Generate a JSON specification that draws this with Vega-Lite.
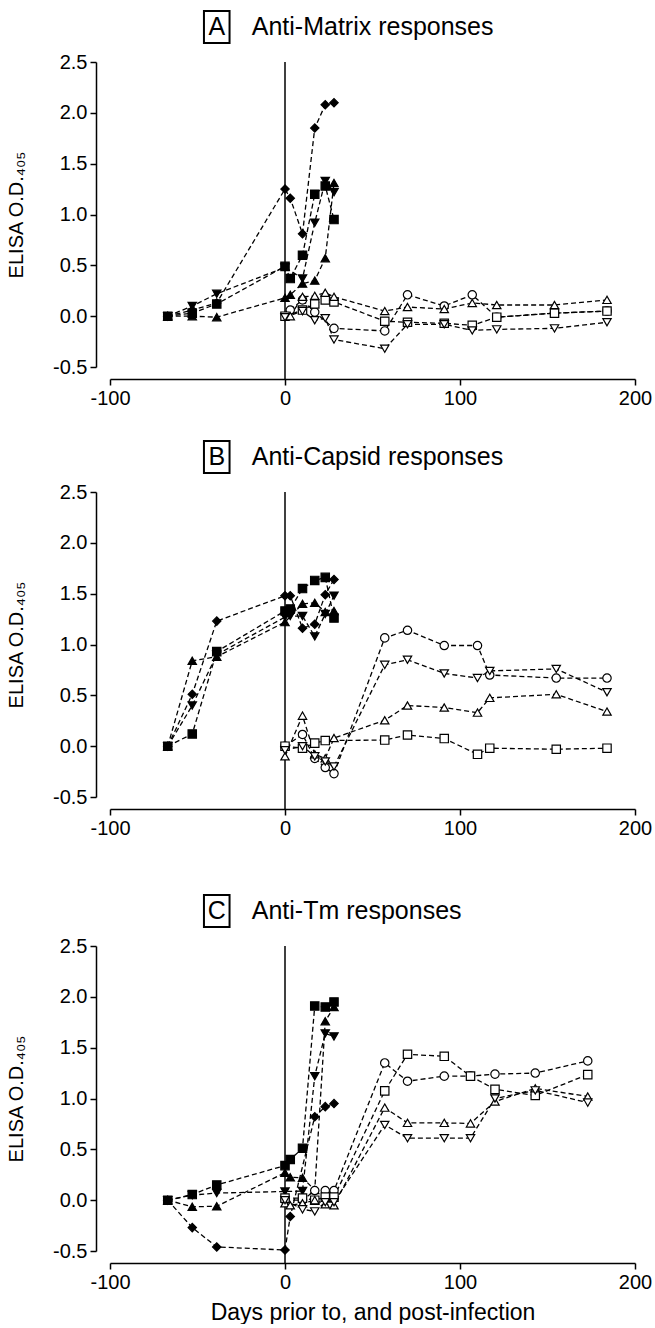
{
  "$schema": "https://vega.github.io/schema/vega-lite/v6.json",
  "padding": {"left": 6, "top": 7, "right": 0, "bottom": 0},
  "background": "white",
  "config": {
    "view": {"stroke": null},
    "axis": {
      "grid": false, "domainColor": "black", "tickColor": "black", "labelColor": "black", "titleColor": "black",
      "labelFont": "Liberation Sans", "titleFont": "Liberation Sans, DejaVu Sans", "labelFontSize": 20, "titleFontSize": 20,
      "titleFontWeight": "normal", "tickSize": 6, "domainWidth": 1.5, "tickWidth": 1.5, "labelPadding": 3,
      "labelOverlap": false, "labelFlush": false, "labelBound": false
    }
  },
  "datasets": {
    "panels": [
      {"panel": "A", "letter": "A", "title": "Anti-Matrix responses"},
      {"panel": "B", "letter": "B", "title": "Anti-Capsid responses"},
      {"panel": "C", "letter": "C", "title": "Anti-Tm responses"}
    ],
    "obs": [
      {"panel":"A","series":"solid-diamond","day":-67,"od":0},{"panel":"A","series":"solid-diamond","day":-53,"od":0.06},{"panel":"A","series":"solid-diamond","day":-39,"od":0.13},{"panel":"A","series":"solid-diamond","day":0,"od":1.25},{"panel":"A","series":"solid-diamond","day":3,"od":1.16},{"panel":"A","series":"solid-diamond","day":10,"od":0.81},{"panel":"A","series":"solid-diamond","day":17,"od":1.85},{"panel":"A","series":"solid-diamond","day":23,"od":2.08},{"panel":"A","series":"solid-diamond","day":28,"od":2.10},
      {"panel":"A","series":"solid-square","day":-67,"od":0},{"panel":"A","series":"solid-square","day":-53,"od":0.03},{"panel":"A","series":"solid-square","day":-39,"od":0.12},{"panel":"A","series":"solid-square","day":0,"od":0.49},{"panel":"A","series":"solid-square","day":3,"od":0.37},{"panel":"A","series":"solid-square","day":10,"od":0.60},{"panel":"A","series":"solid-square","day":17,"od":1.20},{"panel":"A","series":"solid-square","day":23,"od":1.28},{"panel":"A","series":"solid-square","day":28,"od":0.95},
      {"panel":"A","series":"solid-down","day":-67,"od":0},{"panel":"A","series":"solid-down","day":-53,"od":0.10},{"panel":"A","series":"solid-down","day":-39,"od":0.22},{"panel":"A","series":"solid-down","day":0,"od":0.48},{"panel":"A","series":"solid-down","day":10,"od":0.37},{"panel":"A","series":"solid-down","day":17,"od":0.92},{"panel":"A","series":"solid-down","day":23,"od":1.33},{"panel":"A","series":"solid-down","day":28,"od":1.22},
      {"panel":"A","series":"solid-up","day":-67,"od":0},{"panel":"A","series":"solid-up","day":-53,"od":0.0},{"panel":"A","series":"solid-up","day":-39,"od":-0.01},{"panel":"A","series":"solid-up","day":0,"od":0.18},{"panel":"A","series":"solid-up","day":3,"od":0.21},{"panel":"A","series":"solid-up","day":10,"od":0.32},{"panel":"A","series":"solid-up","day":17,"od":0.35},{"panel":"A","series":"solid-up","day":23,"od":0.57},{"panel":"A","series":"solid-up","day":28,"od":1.31},
      {"panel":"A","series":"open-circle","day":3,"od":0.06},{"panel":"A","series":"open-circle","day":10,"od":0.16},{"panel":"A","series":"open-circle","day":17,"od":0.04},{"panel":"A","series":"open-circle","day":28,"od":-0.12},{"panel":"A","series":"open-circle","day":57,"od":-0.145},{"panel":"A","series":"open-circle","day":70,"od":0.21},{"panel":"A","series":"open-circle","day":91,"od":0.10},{"panel":"A","series":"open-circle","day":107,"od":0.21},{"panel":"A","series":"open-circle","day":121,"od":-0.01},{"panel":"A","series":"open-circle","day":154,"od":0.03},{"panel":"A","series":"open-circle","day":184,"od":0.05},
      {"panel":"A","series":"open-square","day":0,"od":0.0},{"panel":"A","series":"open-square","day":10,"od":0.06},{"panel":"A","series":"open-square","day":17,"od":0.12},{"panel":"A","series":"open-square","day":23,"od":0.16},{"panel":"A","series":"open-square","day":28,"od":0.14},{"panel":"A","series":"open-square","day":57,"od":-0.05},{"panel":"A","series":"open-square","day":70,"od":-0.06},{"panel":"A","series":"open-square","day":91,"od":-0.07},{"panel":"A","series":"open-square","day":107,"od":-0.09},{"panel":"A","series":"open-square","day":121,"od":-0.01},{"panel":"A","series":"open-square","day":154,"od":0.03},{"panel":"A","series":"open-square","day":184,"od":0.05},
      {"panel":"A","series":"open-up","day":3,"od":0.0},{"panel":"A","series":"open-up","day":10,"od":0.19},{"panel":"A","series":"open-up","day":17,"od":0.20},{"panel":"A","series":"open-up","day":23,"od":0.23},{"panel":"A","series":"open-up","day":28,"od":0.19},{"panel":"A","series":"open-up","day":57,"od":0.05},{"panel":"A","series":"open-up","day":70,"od":0.09},{"panel":"A","series":"open-up","day":91,"od":0.07},{"panel":"A","series":"open-up","day":107,"od":0.13},{"panel":"A","series":"open-up","day":121,"od":0.11},{"panel":"A","series":"open-up","day":154,"od":0.11},{"panel":"A","series":"open-up","day":184,"od":0.16},
      {"panel":"A","series":"open-down","day":0,"od":-0.01},{"panel":"A","series":"open-down","day":10,"od":0.05},{"panel":"A","series":"open-down","day":17,"od":-0.04},{"panel":"A","series":"open-down","day":23,"od":-0.02},{"panel":"A","series":"open-down","day":28,"od":-0.23},{"panel":"A","series":"open-down","day":57,"od":-0.32},{"panel":"A","series":"open-down","day":70,"od":-0.08},{"panel":"A","series":"open-down","day":91,"od":-0.08},{"panel":"A","series":"open-down","day":107,"od":-0.14},{"panel":"A","series":"open-down","day":121,"od":-0.13},{"panel":"A","series":"open-down","day":154,"od":-0.12},{"panel":"A","series":"open-down","day":184,"od":-0.06},

      {"panel":"B","series":"solid-diamond","day":-67,"od":0},{"panel":"B","series":"solid-diamond","day":-53,"od":0.51},{"panel":"B","series":"solid-diamond","day":-39,"od":1.23},{"panel":"B","series":"solid-diamond","day":0,"od":1.48},{"panel":"B","series":"solid-diamond","day":3,"od":1.48},{"panel":"B","series":"solid-diamond","day":10,"od":1.16},{"panel":"B","series":"solid-diamond","day":17,"od":1.20},{"panel":"B","series":"solid-diamond","day":23,"od":1.49},{"panel":"B","series":"solid-diamond","day":28,"od":1.64},
      {"panel":"B","series":"solid-square","day":-67,"od":0},{"panel":"B","series":"solid-square","day":-53,"od":0.12},{"panel":"B","series":"solid-square","day":-39,"od":0.93},{"panel":"B","series":"solid-square","day":0,"od":1.33},{"panel":"B","series":"solid-square","day":3,"od":1.35},{"panel":"B","series":"solid-square","day":10,"od":1.55},{"panel":"B","series":"solid-square","day":17,"od":1.63},{"panel":"B","series":"solid-square","day":23,"od":1.66},{"panel":"B","series":"solid-square","day":28,"od":1.26},
      {"panel":"B","series":"solid-up","day":-67,"od":0},{"panel":"B","series":"solid-up","day":-53,"od":0.84},{"panel":"B","series":"solid-up","day":-39,"od":0.88},{"panel":"B","series":"solid-up","day":0,"od":1.22},{"panel":"B","series":"solid-up","day":10,"od":1.40},{"panel":"B","series":"solid-up","day":17,"od":1.41},{"panel":"B","series":"solid-up","day":23,"od":1.32},{"panel":"B","series":"solid-up","day":28,"od":1.33},
      {"panel":"B","series":"solid-down","day":-67,"od":0},{"panel":"B","series":"solid-down","day":-53,"od":0.40},{"panel":"B","series":"solid-down","day":-39,"od":0.90},{"panel":"B","series":"solid-down","day":0,"od":1.27},{"panel":"B","series":"solid-down","day":3,"od":1.28},{"panel":"B","series":"solid-down","day":10,"od":1.28},{"panel":"B","series":"solid-down","day":17,"od":1.08},{"panel":"B","series":"solid-down","day":23,"od":1.30},{"panel":"B","series":"solid-down","day":28,"od":1.48},
      {"panel":"B","series":"open-circle","day":0,"od":0.0},{"panel":"B","series":"open-circle","day":10,"od":0.115},{"panel":"B","series":"open-circle","day":17,"od":-0.12},{"panel":"B","series":"open-circle","day":23,"od":-0.21},{"panel":"B","series":"open-circle","day":28,"od":-0.27},{"panel":"B","series":"open-circle","day":57,"od":1.065},{"panel":"B","series":"open-circle","day":70,"od":1.14},{"panel":"B","series":"open-circle","day":91,"od":0.99},{"panel":"B","series":"open-circle","day":110,"od":0.99},{"panel":"B","series":"open-circle","day":117,"od":0.70},{"panel":"B","series":"open-circle","day":155,"od":0.67},{"panel":"B","series":"open-circle","day":184,"od":0.67},
      {"panel":"B","series":"open-square","day":0,"od":0.0},{"panel":"B","series":"open-square","day":10,"od":-0.02},{"panel":"B","series":"open-square","day":17,"od":0.03},{"panel":"B","series":"open-square","day":23,"od":0.055},{"panel":"B","series":"open-square","day":57,"od":0.06},{"panel":"B","series":"open-square","day":70,"od":0.11},{"panel":"B","series":"open-square","day":91,"od":0.075},{"panel":"B","series":"open-square","day":110,"od":-0.08},{"panel":"B","series":"open-square","day":117,"od":-0.02},{"panel":"B","series":"open-square","day":155,"od":-0.03},{"panel":"B","series":"open-square","day":184,"od":-0.02},
      {"panel":"B","series":"open-up","day":0,"od":-0.1},{"panel":"B","series":"open-up","day":10,"od":0.3},{"panel":"B","series":"open-up","day":17,"od":-0.08},{"panel":"B","series":"open-up","day":23,"od":-0.12},{"panel":"B","series":"open-up","day":28,"od":0.08},{"panel":"B","series":"open-up","day":57,"od":0.255},{"panel":"B","series":"open-up","day":70,"od":0.40},{"panel":"B","series":"open-up","day":91,"od":0.38},{"panel":"B","series":"open-up","day":110,"od":0.33},{"panel":"B","series":"open-up","day":117,"od":0.475},{"panel":"B","series":"open-up","day":155,"od":0.51},{"panel":"B","series":"open-up","day":184,"od":0.34},
      {"panel":"B","series":"open-down","day":0,"od":-0.04},{"panel":"B","series":"open-down","day":10,"od":0.0},{"panel":"B","series":"open-down","day":17,"od":-0.1},{"panel":"B","series":"open-down","day":23,"od":-0.15},{"panel":"B","series":"open-down","day":28,"od":-0.2},{"panel":"B","series":"open-down","day":57,"od":0.80},{"panel":"B","series":"open-down","day":70,"od":0.85},{"panel":"B","series":"open-down","day":91,"od":0.715},{"panel":"B","series":"open-down","day":110,"od":0.67},{"panel":"B","series":"open-down","day":117,"od":0.74},{"panel":"B","series":"open-down","day":155,"od":0.76},{"panel":"B","series":"open-down","day":184,"od":0.53},

      {"panel":"C","series":"solid-diamond","day":-67,"od":0},{"panel":"C","series":"solid-diamond","day":-53,"od":-0.27},{"panel":"C","series":"solid-diamond","day":-39,"od":-0.46},{"panel":"C","series":"solid-diamond","day":0,"od":-0.49},{"panel":"C","series":"solid-diamond","day":3,"od":-0.16},{"panel":"C","series":"solid-diamond","day":17,"od":0.82},{"panel":"C","series":"solid-diamond","day":23,"od":0.92},{"panel":"C","series":"solid-diamond","day":28,"od":0.95},
      {"panel":"C","series":"solid-square","day":-67,"od":0},{"panel":"C","series":"solid-square","day":-53,"od":0.055},{"panel":"C","series":"solid-square","day":-39,"od":0.15},{"panel":"C","series":"solid-square","day":0,"od":0.34},{"panel":"C","series":"solid-square","day":3,"od":0.40},{"panel":"C","series":"solid-square","day":10,"od":0.51},{"panel":"C","series":"solid-square","day":17,"od":1.91},{"panel":"C","series":"solid-square","day":23,"od":1.90},{"panel":"C","series":"solid-square","day":28,"od":1.95},
      {"panel":"C","series":"solid-up","day":-67,"od":0},{"panel":"C","series":"solid-up","day":-53,"od":-0.065},{"panel":"C","series":"solid-up","day":-39,"od":-0.06},{"panel":"C","series":"solid-up","day":0,"od":0.27},{"panel":"C","series":"solid-up","day":3,"od":0.225},{"panel":"C","series":"solid-up","day":10,"od":0.22},{"panel":"C","series":"solid-up","day":17,"od":0.1},{"panel":"C","series":"solid-up","day":23,"od":1.76},{"panel":"C","series":"solid-up","day":28,"od":1.90},
      {"panel":"C","series":"solid-down","day":-67,"od":0},{"panel":"C","series":"solid-down","day":-53,"od":0.05},{"panel":"C","series":"solid-down","day":-39,"od":0.07},{"panel":"C","series":"solid-down","day":0,"od":0.085},{"panel":"C","series":"solid-down","day":10,"od":0.09},{"panel":"C","series":"solid-down","day":17,"od":1.22},{"panel":"C","series":"solid-down","day":23,"od":1.64},{"panel":"C","series":"solid-down","day":28,"od":1.61},
      {"panel":"C","series":"open-circle","day":0,"od":0.0},{"panel":"C","series":"open-circle","day":10,"od":0.0},{"panel":"C","series":"open-circle","day":17,"od":0.095},{"panel":"C","series":"open-circle","day":23,"od":0.095},{"panel":"C","series":"open-circle","day":28,"od":0.095},{"panel":"C","series":"open-circle","day":57,"od":1.35},{"panel":"C","series":"open-circle","day":70,"od":1.17},{"panel":"C","series":"open-circle","day":91,"od":1.22},{"panel":"C","series":"open-circle","day":106,"od":1.22},{"panel":"C","series":"open-circle","day":120,"od":1.24},{"panel":"C","series":"open-circle","day":143,"od":1.25},{"panel":"C","series":"open-circle","day":173,"od":1.37},
      {"panel":"C","series":"open-square","day":0,"od":0.02},{"panel":"C","series":"open-square","day":10,"od":0.02},{"panel":"C","series":"open-square","day":17,"od":0.0},{"panel":"C","series":"open-square","day":23,"od":0.03},{"panel":"C","series":"open-square","day":28,"od":0.03},{"panel":"C","series":"open-square","day":57,"od":1.075},{"panel":"C","series":"open-square","day":70,"od":1.435},{"panel":"C","series":"open-square","day":91,"od":1.415},{"panel":"C","series":"open-square","day":106,"od":1.22},{"panel":"C","series":"open-square","day":120,"od":1.09},{"panel":"C","series":"open-square","day":143,"od":1.03},{"panel":"C","series":"open-square","day":173,"od":1.235},
      {"panel":"C","series":"open-up","day":0,"od":-0.03},{"panel":"C","series":"open-up","day":3,"od":-0.05},{"panel":"C","series":"open-up","day":10,"od":-0.03},{"panel":"C","series":"open-up","day":17,"od":0.0},{"panel":"C","series":"open-up","day":23,"od":-0.04},{"panel":"C","series":"open-up","day":28,"od":-0.05},{"panel":"C","series":"open-up","day":57,"od":0.91},{"panel":"C","series":"open-up","day":70,"od":0.76},{"panel":"C","series":"open-up","day":91,"od":0.76},{"panel":"C","series":"open-up","day":106,"od":0.755},{"panel":"C","series":"open-up","day":120,"od":0.97},{"panel":"C","series":"open-up","day":143,"od":1.10},{"panel":"C","series":"open-up","day":173,"od":1.02},
      {"panel":"C","series":"open-down","day":0,"od":0.0},{"panel":"C","series":"open-down","day":10,"od":-0.09},{"panel":"C","series":"open-down","day":17,"od":-0.11},{"panel":"C","series":"open-down","day":23,"od":-0.02},{"panel":"C","series":"open-down","day":28,"od":-0.02},{"panel":"C","series":"open-down","day":57,"od":0.74},{"panel":"C","series":"open-down","day":70,"od":0.61},{"panel":"C","series":"open-down","day":91,"od":0.61},{"panel":"C","series":"open-down","day":106,"od":0.61},{"panel":"C","series":"open-down","day":120,"od":1.0},{"panel":"C","series":"open-down","day":143,"od":1.08},{"panel":"C","series":"open-down","day":173,"od":0.96}
    ]
  },
  "spacing": 53,
  "vconcat": [
    {
      "spacing": 29,
      "vconcat": [
        {
          "width": 525, "height": 305,
          "data": {"name": "obs"},
          "transform": [{"filter": "datum.panel === 'A'"}],
          "layer": [
            {"data": {"name": "panels"}, "transform": [{"filter": "datum.panel === 'A'"}],
             "mark": {"type": "rule", "color": "black", "strokeWidth": 1.5},
             "encoding": {"x": {"datum": 0, "type": "quantitative", "scale": {"domain": [-100, 200], "nice": false, "zero": false}},
                          "y": {"datum": 2.5, "type": "quantitative", "scale": {"domain": [-0.5, 2.5], "nice": false, "zero": false}},
                          "y2": {"datum": -0.618}}},
            {"mark": {"type": "line", "color": "black", "strokeWidth": 1.3, "strokeDash": [5, 3]},
             "encoding": {"x": {"field": "day", "type": "quantitative", "scale": {"domain": [-100, 200], "nice": false, "zero": false},
                                "axis": {"offset": 12, "values": [-100, 0, 100, 200], "title": null, "labelExpr": "(datum.value < 0 ? '-' : '') + format(abs(datum.value), 'd')"}},
                          "y": {"field": "od", "type": "quantitative", "scale": {"domain": [-0.5, 2.5], "nice": false, "zero": false},
                                "axis": {"offset": 14, "values": [-0.5, 0, 0.5, 1, 1.5, 2, 2.5], "title": "ELISA O.D.₄₀₅", "titlePadding": 26, "labelExpr": "(datum.value < 0 ? '-' : '') + format(abs(datum.value), '.1f')"}},
                          "detail": {"field": "series"}, "order": {"field": "day", "type": "quantitative"}}},
            {"mark": {"type": "point", "filled": true, "size": 70, "stroke": "black", "strokeWidth": 1.2, "opacity": 1},
             "encoding": {"x": {"field": "day", "type": "quantitative", "scale": {"domain": [-100, 200], "nice": false, "zero": false}},
                          "y": {"field": "od", "type": "quantitative", "scale": {"domain": [-0.5, 2.5], "nice": false, "zero": false}},
                          "shape": {"field": "series", "legend": null, "scale": {"domain": ["solid-diamond", "solid-square", "solid-up", "solid-down", "open-circle", "open-square", "open-up", "open-down"], "range": ["diamond", "square", "triangle-up", "triangle-down", "circle", "square", "triangle-up", "triangle-down"]}},
                          "fill": {"field": "series", "legend": null, "scale": {"domain": ["solid-diamond", "solid-square", "solid-up", "solid-down", "open-circle", "open-square", "open-up", "open-down"], "range": ["black", "black", "black", "black", "white", "white", "white", "white"]}}}},
            {"data": {"name": "panels"}, "transform": [{"filter": "datum.panel === 'A'"}],
             "mark": {"type": "point", "shape": "M -0.8 -1 L 0.8 -1 L 0.8 1 L -0.8 1 Z", "size": 1024, "filled": false, "stroke": "black", "strokeWidth": 2, "opacity": 1},
             "encoding": {"x": {"datum": -39, "type": "quantitative", "scale": {"domain": [-100, 200], "nice": false, "zero": false}},
                          "y": {"datum": 2.844, "type": "quantitative", "scale": {"domain": [-0.5, 2.5], "nice": false, "zero": false}}}},
            {"data": {"name": "panels"}, "transform": [{"filter": "datum.panel === 'A'"}],
             "mark": {"type": "text", "font": "Liberation Sans", "fontSize": 25, "align": "center", "baseline": "middle", "color": "black"},
             "encoding": {"x": {"datum": -39, "type": "quantitative", "scale": {"domain": [-100, 200], "nice": false, "zero": false}},
                          "y": {"datum": 2.844, "type": "quantitative", "scale": {"domain": [-0.5, 2.5], "nice": false, "zero": false}},
                          "text": {"field": "letter"}}},
            {"data": {"name": "panels"}, "transform": [{"filter": "datum.panel === 'A'"}],
             "mark": {"type": "text", "font": "Liberation Sans", "fontSize": 25, "align": "left", "baseline": "middle", "color": "black"},
             "encoding": {"x": {"datum": -19, "type": "quantitative", "scale": {"domain": [-100, 200], "nice": false, "zero": false}},
                          "y": {"datum": 2.844, "type": "quantitative", "scale": {"domain": [-0.5, 2.5], "nice": false, "zero": false}},
                          "text": {"field": "title"}}}
          ]
        },
        {
          "width": 525, "height": 305,
          "data": {"name": "obs"},
          "transform": [{"filter": "datum.panel === 'B'"}],
          "layer": [
            {"data": {"name": "panels"}, "transform": [{"filter": "datum.panel === 'B'"}],
             "mark": {"type": "rule", "color": "black", "strokeWidth": 1.5},
             "encoding": {"x": {"datum": 0, "type": "quantitative", "scale": {"domain": [-100, 200], "nice": false, "zero": false}},
                          "y": {"datum": 2.5, "type": "quantitative", "scale": {"domain": [-0.5, 2.5], "nice": false, "zero": false}},
                          "y2": {"datum": -0.618}}},
            {"mark": {"type": "line", "color": "black", "strokeWidth": 1.3, "strokeDash": [5, 3]},
             "encoding": {"x": {"field": "day", "type": "quantitative", "scale": {"domain": [-100, 200], "nice": false, "zero": false},
                                "axis": {"offset": 12, "values": [-100, 0, 100, 200], "title": null, "labelExpr": "(datum.value < 0 ? '-' : '') + format(abs(datum.value), 'd')"}},
                          "y": {"field": "od", "type": "quantitative", "scale": {"domain": [-0.5, 2.5], "nice": false, "zero": false},
                                "axis": {"offset": 14, "values": [-0.5, 0, 0.5, 1, 1.5, 2, 2.5], "title": "ELISA O.D.₄₀₅", "titlePadding": 26, "labelExpr": "(datum.value < 0 ? '-' : '') + format(abs(datum.value), '.1f')"}},
                          "detail": {"field": "series"}, "order": {"field": "day", "type": "quantitative"}}},
            {"mark": {"type": "point", "filled": true, "size": 70, "stroke": "black", "strokeWidth": 1.2, "opacity": 1},
             "encoding": {"x": {"field": "day", "type": "quantitative", "scale": {"domain": [-100, 200], "nice": false, "zero": false}},
                          "y": {"field": "od", "type": "quantitative", "scale": {"domain": [-0.5, 2.5], "nice": false, "zero": false}},
                          "shape": {"field": "series", "legend": null, "scale": {"domain": ["solid-diamond", "solid-square", "solid-up", "solid-down", "open-circle", "open-square", "open-up", "open-down"], "range": ["diamond", "square", "triangle-up", "triangle-down", "circle", "square", "triangle-up", "triangle-down"]}},
                          "fill": {"field": "series", "legend": null, "scale": {"domain": ["solid-diamond", "solid-square", "solid-up", "solid-down", "open-circle", "open-square", "open-up", "open-down"], "range": ["black", "black", "black", "black", "white", "white", "white", "white"]}}}},
            {"data": {"name": "panels"}, "transform": [{"filter": "datum.panel === 'B'"}],
             "mark": {"type": "point", "shape": "M -0.8 -1 L 0.8 -1 L 0.8 1 L -0.8 1 Z", "size": 1024, "filled": false, "stroke": "black", "strokeWidth": 2, "opacity": 1},
             "encoding": {"x": {"datum": -39, "type": "quantitative", "scale": {"domain": [-100, 200], "nice": false, "zero": false}},
                          "y": {"datum": 2.844, "type": "quantitative", "scale": {"domain": [-0.5, 2.5], "nice": false, "zero": false}}}},
            {"data": {"name": "panels"}, "transform": [{"filter": "datum.panel === 'B'"}],
             "mark": {"type": "text", "font": "Liberation Sans", "fontSize": 25, "align": "center", "baseline": "middle", "color": "black"},
             "encoding": {"x": {"datum": -39, "type": "quantitative", "scale": {"domain": [-100, 200], "nice": false, "zero": false}},
                          "y": {"datum": 2.844, "type": "quantitative", "scale": {"domain": [-0.5, 2.5], "nice": false, "zero": false}},
                          "text": {"field": "letter"}}},
            {"data": {"name": "panels"}, "transform": [{"filter": "datum.panel === 'B'"}],
             "mark": {"type": "text", "font": "Liberation Sans", "fontSize": 25, "align": "left", "baseline": "middle", "color": "black"},
             "encoding": {"x": {"datum": -19, "type": "quantitative", "scale": {"domain": [-100, 200], "nice": false, "zero": false}},
                          "y": {"datum": 2.844, "type": "quantitative", "scale": {"domain": [-0.5, 2.5], "nice": false, "zero": false}},
                          "text": {"field": "title"}}}
          ]
        }
      ]
    },
    {
      "width": 525, "height": 305,
      "data": {"name": "obs"},
      "transform": [{"filter": "datum.panel === 'C'"}],
      "layer": [
        {"data": {"name": "panels"}, "transform": [{"filter": "datum.panel === 'C'"}],
         "mark": {"type": "rule", "color": "black", "strokeWidth": 1.5},
         "encoding": {"x": {"datum": 0, "type": "quantitative", "scale": {"domain": [-100, 200], "nice": false, "zero": false}},
                      "y": {"datum": 2.5, "type": "quantitative", "scale": {"domain": [-0.5, 2.5], "nice": false, "zero": false}},
                      "y2": {"datum": -0.618}}},
        {"mark": {"type": "line", "color": "black", "strokeWidth": 1.3, "strokeDash": [5, 3]},
         "encoding": {"x": {"field": "day", "type": "quantitative", "scale": {"domain": [-100, 200], "nice": false, "zero": false},
                            "axis": {"offset": 12, "values": [-100, 0, 100, 200], "title": "Days prior to, and post-infection", "titleFontSize": 23, "titlePadding": 9, "labelExpr": "(datum.value < 0 ? '-' : '') + format(abs(datum.value), 'd')"}},
                      "y": {"field": "od", "type": "quantitative", "scale": {"domain": [-0.5, 2.5], "nice": false, "zero": false},
                            "axis": {"offset": 14, "values": [-0.5, 0, 0.5, 1, 1.5, 2, 2.5], "title": "ELISA O.D.₄₀₅", "titlePadding": 26, "labelExpr": "(datum.value < 0 ? '-' : '') + format(abs(datum.value), '.1f')"}},
                      "detail": {"field": "series"}, "order": {"field": "day", "type": "quantitative"}}},
        {"mark": {"type": "point", "filled": true, "size": 70, "stroke": "black", "strokeWidth": 1.2, "opacity": 1},
         "encoding": {"x": {"field": "day", "type": "quantitative", "scale": {"domain": [-100, 200], "nice": false, "zero": false}},
                      "y": {"field": "od", "type": "quantitative", "scale": {"domain": [-0.5, 2.5], "nice": false, "zero": false}},
                      "shape": {"field": "series", "legend": null, "scale": {"domain": ["solid-diamond", "solid-square", "solid-up", "solid-down", "open-circle", "open-square", "open-up", "open-down"], "range": ["diamond", "square", "triangle-up", "triangle-down", "circle", "square", "triangle-up", "triangle-down"]}},
                      "fill": {"field": "series", "legend": null, "scale": {"domain": ["solid-diamond", "solid-square", "solid-up", "solid-down", "open-circle", "open-square", "open-up", "open-down"], "range": ["black", "black", "black", "black", "white", "white", "white", "white"]}}}},
        {"data": {"name": "panels"}, "transform": [{"filter": "datum.panel === 'C'"}],
         "mark": {"type": "point", "shape": "M -0.8 -1 L 0.8 -1 L 0.8 1 L -0.8 1 Z", "size": 1024, "filled": false, "stroke": "black", "strokeWidth": 2, "opacity": 1},
         "encoding": {"x": {"datum": -39, "type": "quantitative", "scale": {"domain": [-100, 200], "nice": false, "zero": false}},
                      "y": {"datum": 2.844, "type": "quantitative", "scale": {"domain": [-0.5, 2.5], "nice": false, "zero": false}}}},
        {"data": {"name": "panels"}, "transform": [{"filter": "datum.panel === 'C'"}],
         "mark": {"type": "text", "font": "Liberation Sans", "fontSize": 25, "align": "center", "baseline": "middle", "color": "black"},
         "encoding": {"x": {"datum": -39, "type": "quantitative", "scale": {"domain": [-100, 200], "nice": false, "zero": false}},
                      "y": {"datum": 2.844, "type": "quantitative", "scale": {"domain": [-0.5, 2.5], "nice": false, "zero": false}},
                      "text": {"field": "letter"}}},
        {"data": {"name": "panels"}, "transform": [{"filter": "datum.panel === 'C'"}],
         "mark": {"type": "text", "font": "Liberation Sans", "fontSize": 25, "align": "left", "baseline": "middle", "color": "black"},
         "encoding": {"x": {"datum": -19, "type": "quantitative", "scale": {"domain": [-100, 200], "nice": false, "zero": false}},
                      "y": {"datum": 2.844, "type": "quantitative", "scale": {"domain": [-0.5, 2.5], "nice": false, "zero": false}},
                      "text": {"field": "title"}}}
      ]
    }
  ]
}
